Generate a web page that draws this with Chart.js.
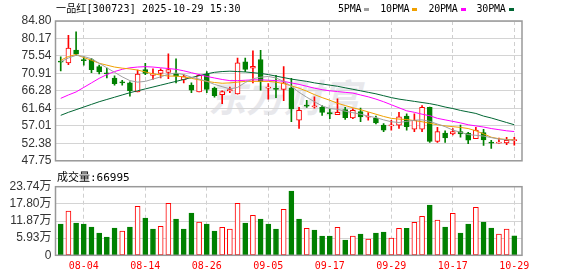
<!DOCTYPE html>
<html>
<head>
<meta charset="utf-8">
<script src="https://cdn.jsdelivr.net/npm/chart.js@4.4.1/dist/chart.umd.min.js"></script>
<style>
  body { margin: 0; background: #fff; }
  #wrap { position: relative; width: 578px; height: 276px; overflow: hidden; }
  canvas { position: absolute; left: 0; }
  #main { top: 0; }
  #vol { top: 172px; }
  .txt {
    position: absolute;
    font-family: "DejaVu Sans Mono", "Noto Sans CJK SC", monospace;
    font-size: 10px;
    line-height: 12px;
    color: #000;
    white-space: nowrap;
  }
  #title { left: 56px; top: 3px; letter-spacing: 0.15px; }
  #legend { left: 338px; top: 3px; display: flex; align-items: center; letter-spacing: -0.2px; }
  #legend .key { display: inline-block; width: 5px; height: 3px; margin: 0 11px 0 3px; }
  #volTitle { left: 57px; top: 172px; font-size: 11px; }
  #mark {
    position: absolute; left: 208px; top: 68px;
    font: italic bold 38px "Noto Sans CJK SC";
    color: #e8e8ec;
  }
</style>
</head>
<body>
<div id="wrap">
  <div id="mark">东方财富</div>
  <canvas id="main" width="578" height="172"></canvas>
  <canvas id="vol" width="578" height="104"></canvas>
  <div class="txt" id="title">一品红[300723] 2025-10-29 15:30</div>
  <div class="txt" id="legend"></div>
  <div class="txt" id="volTitle">成交量:66995</div>
</div>
<script>
"use strict";

const dates = [
  "07-30", "07-31", "08-01", "08-04", "08-05", "08-06", "08-07", "08-08", "08-11", "08-12",
  "08-13", "08-14", "08-15", "08-18", "08-19", "08-20", "08-21", "08-22", "08-25", "08-26",
  "08-27", "08-28", "08-29", "09-01", "09-02", "09-03", "09-04", "09-05", "09-08", "09-09",
  "09-10", "09-11", "09-12", "09-15", "09-16", "09-17", "09-18", "09-19", "09-22", "09-23",
  "09-24", "09-25", "09-26", "09-29", "09-30", "10-09", "10-10", "10-13", "10-14", "10-15",
  "10-16", "10-17", "10-20", "10-21", "10-22", "10-23", "10-24", "10-27", "10-28", "10-29",
];

const opens = [
  74.1, 73.7, 77.1, 74.6, 74.6, 72.7, 71.0, 69.7, 68.6, 68.4,
  66.0, 71.9, 70.4, 70.9, 71.2, 71.0, 69.2, 67.8, 66.0, 70.7,
  67.0, 65.3, 66.3, 65.5, 74.0, 72.3, 74.6, 67.0, 66.9, 66.7,
  67.1, 58.5, 62.5, 62.0, 61.9, 60.5, 60.0, 61.3, 59.1, 60.8,
  59.3, 59.1, 57.2, 57.0, 57.2, 59.6, 56.1, 56.1, 61.9, 52.9,
  55.1, 54.9, 55.5, 55.1, 53.6, 55.2, 52.7, 52.4, 52.5, 53.1,
];
const highs = [
  75.3, 81.0, 81.9, 75.3, 74.9, 73.1, 72.3, 70.3, 69.1, 68.7,
  71.8, 73.6, 72.1, 72.1, 76.1, 74.8, 70.6, 68.4, 70.6, 71.4,
  67.3, 66.3, 67.3, 75.0, 75.0, 76.9, 77.0, 68.2, 70.4, 72.7,
  69.6, 61.9, 63.8, 64.7, 62.4, 61.5, 64.2, 61.9, 61.5, 61.7,
  60.5, 59.6, 57.6, 58.5, 60.6, 60.2, 60.2, 62.4, 62.0, 56.6,
  55.7, 56.3, 57.2, 55.3, 56.6, 56.1, 53.2, 53.8, 54.0, 54.0,
];
const lows = [
  71.6, 73.2, 75.6, 73.1, 71.1, 70.8, 69.7, 67.8, 67.8, 64.9,
  66.0, 70.6, 69.3, 69.7, 69.5, 68.4, 68.4, 65.8, 66.0, 65.8,
  64.6, 62.9, 65.8, 65.4, 71.4, 68.4, 66.5, 64.1, 64.5, 63.7,
  58.1, 56.3, 61.9, 61.7, 59.8, 58.9, 60.0, 58.7, 58.9, 58.1,
  58.5, 57.5, 55.5, 55.9, 56.3, 55.9, 55.5, 55.5, 52.6, 52.6,
  52.6, 54.6, 54.0, 52.3, 53.6, 51.8, 51.0, 52.4, 52.0, 51.9,
];
const closes = [
  73.9, 77.6, 76.0, 74.3, 71.9, 71.3, 70.8, 68.2, 68.4, 66.3,
  70.7, 70.9, 70.8, 71.7, 71.9, 70.2, 70.1, 66.5, 70.4, 66.7,
  65.0, 66.1, 66.6, 73.7, 72.0, 72.8, 68.8, 67.2, 66.7, 68.4,
  61.5, 61.1, 62.2, 62.3, 60.6, 60.2, 60.6, 59.2, 61.1, 59.4,
  59.5, 57.8, 55.9, 57.3, 59.4, 56.8, 58.5, 61.9, 52.9, 55.5,
  53.8, 55.5, 54.9, 53.2, 55.9, 53.3, 52.4, 52.7, 53.2, 53.2,
];

const ma5 = [
  74.0, 75.0, 75.7, 75.4, 74.8, 73.6, 72.4, 71.2, 70.0, 69.0,
  68.6, 68.8, 69.4, 70.0, 70.7, 71.0, 70.6, 69.9, 69.4, 68.8,
  68.0, 67.4, 66.8, 67.2, 68.5, 69.5, 69.9, 70.1, 69.7, 68.8,
  67.5, 65.9, 64.6, 63.4, 62.3, 61.6, 61.4, 60.9, 60.5, 60.1,
  59.6, 59.2, 58.6, 58.1, 57.9, 58.2, 58.5, 58.6, 58.2, 57.5,
  56.8, 55.9, 55.3, 54.7, 54.5, 54.3, 53.9, 53.5, 53.3, 53.2,
];
const ma10 = [
  74.4, 75.4, 75.9, 75.1, 74.4, 73.6, 73.1, 72.6, 72.3, 72.1,
  71.8, 71.3, 70.8, 70.5, 70.2, 70.2, 70.0, 69.6, 69.2, 68.8,
  68.5, 68.3, 68.4, 68.6, 68.8, 68.8, 68.8, 68.8, 68.6, 68.2,
  67.6, 67.0, 66.2, 65.3, 64.5, 63.8, 63.0, 62.4, 61.8, 61.3,
  60.7, 60.1, 59.5, 59.0, 58.8, 58.7, 58.4, 58.1, 57.7, 57.3,
  57.0, 56.8, 56.6, 56.3, 55.7, 54.9, 54.0, 53.6, 53.4, 53.3,
];
const ma20 = [
  64.3, 65.2, 66.0, 67.2, 68.4, 69.6, 70.6, 71.4, 72.0, 72.4,
  72.6, 72.7, 72.6, 72.4, 72.2, 72.0, 71.6, 71.1, 70.6, 70.1,
  69.7, 69.3, 69.0, 69.0, 69.1, 69.2, 69.2, 69.1, 69.0, 68.8,
  68.4, 68.0, 67.5, 67.0, 66.6, 66.3, 66.1, 65.9, 65.7, 65.2,
  64.7, 64.1, 63.4, 62.6, 61.8, 61.0, 60.6, 60.1, 59.7, 59.0,
  58.6, 58.2, 57.8, 57.3, 57.0, 56.7, 56.3, 56.0, 55.7, 55.5,
];
const ma30 = [
  59.8, 60.6, 61.3, 62.0, 62.7, 63.4, 64.0, 64.6, 65.2, 65.8,
  66.3, 66.8, 67.3, 67.8, 68.3, 68.8, 69.3, 69.8, 70.3, 70.8,
  71.2, 71.4, 71.5, 71.4, 71.3, 71.1, 70.9, 70.6, 70.2, 69.8,
  69.4, 69.1, 68.8, 68.4, 68.1, 67.8, 67.5, 67.1, 66.7, 66.3,
  65.9, 65.5, 65.0, 64.5, 64.1, 63.8, 63.5, 63.2, 62.9, 62.5,
  62.0, 61.6, 61.1, 60.7, 60.3, 59.6, 59.1, 58.5, 57.9, 57.3,
];

// volume in 万 (10k lots)
const volumes = [
  10.83, 15.33, 11.18, 10.83, 9.80, 7.72, 6.34, 9.45, 8.41, 9.80,
  16.94, 12.90, 9.10, 10.03, 17.98, 12.56, 9.10, 14.64, 11.52, 10.83,
  8.41, 9.68, 9.10, 17.98, 11.18, 13.83, 12.56, 10.83, 9.10, 15.90,
  22.24, 12.56, 9.33, 8.76, 6.68, 6.68, 9.68, 5.30, 6.68, 7.38,
  5.65, 7.72, 8.07, 5.99, 9.33, 9.33, 11.41, 13.48, 17.40, 12.20,
  9.80, 14.52, 7.72, 10.83, 16.60, 11.52, 9.45, 7.38, 9.10, 6.70,
];
// 1 = red (up on the day), 0 = green
const volUp = [
  0, 1, 0, 0, 0, 0, 0, 0, 1, 0,
  1, 0, 0, 1, 1, 0, 0, 0, 1, 0,
  0, 1, 1, 1, 0, 1, 0, 0, 0, 1,
  0, 0, 1, 0, 0, 0, 1, 0, 1, 0,
  1, 0, 0, 1, 1, 0, 1, 1, 0, 1,
  0, 1, 0, 0, 1, 0, 0, 1, 1, 0,
];

const priceTicks = [84.80, 80.17, 75.54, 70.91, 66.28, 61.64, 57.01, 52.38, 47.75];
const volTicks = [0, 5.93, 11.87, 17.80, 23.74];
const dateTickIdx = [3, 11, 19, 27, 35, 43, 51, 59];

const maNames = ["5PMA", "10PMA", "20PMA", "30PMA"];
const maColors = ["#a0a0a0", "#f0a000", "#ff00ff", "#006633"];
const RED = "#ff0000";
const GREEN = "#008000";

// legend
const legend = document.getElementById("legend");
maNames.forEach((name, i) => {
  const t = document.createElement("span");
  t.textContent = name;
  const k = document.createElement("span");
  k.className = "key";
  k.style.background = maColors[i];
  legend.appendChild(t);
  legend.appendChild(k);
});

const framePlugin = {
  id: "frame",
  afterDraw(chart) {
    const { ctx, chartArea: a } = chart;
    ctx.save();
    ctx.strokeStyle = "#999";
    ctx.lineWidth = 1.5;
    ctx.strokeRect(a.left, a.top, a.right - a.left, a.bottom - a.top);
    ctx.restore();
  },
};

const xRange = { min: -0.68, max: 60 };
const labelFont = { family: "'Liberation Sans', 'Noto Sans CJK SC', sans-serif", size: 12 };

const isUp = (i) => closes[i] >= opens[i];

const mainChart = new Chart(document.getElementById("main"), {
  type: "bar",
  data: {
    datasets: [
      ...[ma5, ma10, ma20, ma30].map((arr, k) => ({
        type: "line",
        label: maNames[k],
        data: arr.map((v, i) => ({ x: i, y: v })),
        borderColor: maColors[k],
        borderWidth: 1,
        pointRadius: 0,
        tension: 0,
        order: 0,
      })),
      {
        label: "body",
        data: opens.map((o, i) => ({ x: i, y: [o, closes[i]] })),
        backgroundColor: (c) => (isUp(c.dataIndex) ? "#ffffff" : GREEN),
        borderColor: (c) => (isUp(c.dataIndex) ? RED : GREEN),
        borderWidth: 1,
        borderSkipped: false,
        barThickness: 5,
        minBarLength: 1,
        grouped: false,
        order: 1,
      },
      {
        label: "wick",
        data: highs.map((h, i) => ({ x: i, y: [lows[i], h] })),
        backgroundColor: (c) => (isUp(c.dataIndex) ? RED : GREEN),
        borderWidth: 0,
        barThickness: 1,
        grouped: false,
        order: 2,
      },
    ],
  },
  options: {
    responsive: false,
    animation: false,
    devicePixelRatio: 1,
    events: [],
    layout: { padding: { top: 21, right: 56, bottom: 7, left: 0 } },
    plugins: { legend: { display: false }, tooltip: { enabled: false } },
    scales: {
      x: {
        type: "linear",
        ...xRange,
        offset: false,
        afterBuildTicks: (s) => { s.ticks = dateTickIdx.map((v) => ({ value: v })); },
        afterFit: (s) => { s.height = 0; },
        ticks: { display: false },
        grid: { color: "#cfcfcf", lineWidth: 1, drawTicks: false, offset: false },
        border: { display: false, dash: [4, 3] },
      },
      y: {
        min: priceTicks[priceTicks.length - 1],
        max: priceTicks[0],
        beginAtZero: false,
        afterBuildTicks: (s) => { s.ticks = priceTicks.map((v) => ({ value: v })); },
        afterFit: (s) => { s.width = 55.5; },
        ticks: { callback: (v) => v.toFixed(2), font: labelFont, color: "#333", padding: 4, autoSkip: false },
        grid: { color: "#d4d4d4", drawTicks: false },
        border: { display: false },
      },
    },
  },
  plugins: [framePlugin],
});

const volChart = new Chart(document.getElementById("vol"), {
  type: "bar",
  data: {
    datasets: [
      {
        label: "成交量",
        data: volumes.map((v, i) => ({ x: i, y: v })),
        backgroundColor: (c) => (volUp[c.dataIndex] ? "#ffffff" : GREEN),
        borderColor: (c) => (volUp[c.dataIndex] ? RED : GREEN),
        borderWidth: 1,
        borderSkipped: false,
        barThickness: 5,
        grouped: false,
      },
    ],
  },
  options: {
    responsive: false,
    animation: false,
    devicePixelRatio: 1,
    events: [],
    layout: { padding: { top: 14.7, right: 56, bottom: 0, left: 0 } },
    plugins: { legend: { display: false }, tooltip: { enabled: false } },
    scales: {
      x: {
        type: "linear",
        ...xRange,
        offset: false,
        afterBuildTicks: (s) => { s.ticks = dateTickIdx.map((v) => ({ value: v })); },
        afterFit: (s) => { s.height = 20.7; },
        ticks: {
          callback: (v) => dates[v],
          font: { family: "'DejaVu Sans Mono', monospace", size: 10 },
          color: RED,
          padding: 5,
          autoSkip: false,
          maxRotation: 0,
        },
        grid: { color: "#cfcfcf", lineWidth: 1, drawTicks: false, offset: false },
        border: { display: false, dash: [4, 3] },
      },
      y: {
        min: volTicks[0],
        max: volTicks[volTicks.length - 1],
        afterBuildTicks: (s) => { s.ticks = volTicks.map((v) => ({ value: v })); },
        afterFit: (s) => { s.width = 55.5; },
        ticks: {
          callback: (v) => (v === 0 ? "0" : v.toFixed(2) + "万"),
          font: labelFont,
          color: "#333",
          padding: 4,
          autoSkip: false,
        },
        grid: { color: "#d4d4d4", drawTicks: false },
        border: { display: false },
      },
    },
  },
  plugins: [framePlugin],
});
</script>
</body>
</html>
